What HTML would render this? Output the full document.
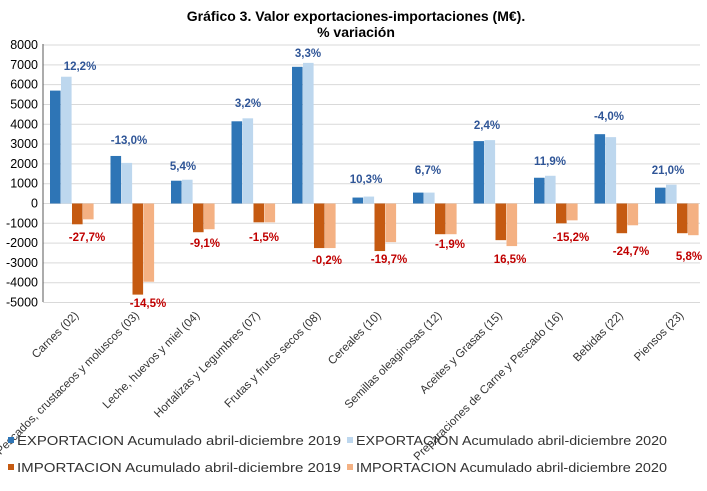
<!DOCTYPE html>
<html><head><meta charset="utf-8"><style>body{margin:0;background:#fff}svg{display:block}</style></head>
<body>
<svg width="707" height="491" xmlns="http://www.w3.org/2000/svg" font-family="Liberation Sans, sans-serif">
<text x="356" y="21" font-size="14" font-weight="bold" text-anchor="middle" fill="#000">Gráfico 3. Valor exportaciones-importaciones (M€).</text>
<text x="356" y="37" font-size="14" font-weight="bold" text-anchor="middle" fill="#000">% variación</text>
<g id="grid" stroke="#d9d9d9" stroke-width="1"></g>
<g id="bars"></g>
<g id="yl" font-size="12.5" fill="#000" text-anchor="end"></g>
<line x1="43" y1="44" x2="43" y2="302" stroke="#595959"/>
<g id="xl" font-size="11.5" fill="#333" text-anchor="end"></g>
<g id="lab" font-size="11.5" font-weight="bold" text-anchor="middle"></g>
<g font-size="13" fill="#333">
<rect x="8" y="437" width="6" height="6" fill="#2e75b6"/><text x="17" y="445" textLength="324" lengthAdjust="spacingAndGlyphs">EXPORTACION Acumulado abril-diciembre 2019</text>
<rect x="347" y="437" width="6" height="6" fill="#bdd7ee"/><text x="356" y="445" textLength="311" lengthAdjust="spacingAndGlyphs">EXPORTACION Acumulado abril-diciembre 2020</text>
<rect x="8" y="464" width="6" height="6" fill="#c55a11"/><text x="17" y="472" textLength="324" lengthAdjust="spacingAndGlyphs">IMPORTACION Acumulado abril-diciembre 2019</text>
<rect x="347" y="464" width="6" height="6" fill="#f4b183"/><text x="356" y="472" textLength="311" lengthAdjust="spacingAndGlyphs">IMPORTACION Acumulado abril-diciembre 2020</text>
</g>
<script>
var ns="http://www.w3.org/2000/svg";
function el(p,t,a,txt){var e=document.createElementNS(ns,t);for(var k in a)e.setAttribute(k,a[k]);if(txt)e.textContent=txt;document.getElementById(p).appendChild(e);}
var z=203.5,s=257.5/13000;
function Y(v){return z-v*s;}
for(var v=-5000;v<=8000;v+=1000){el('grid','line',{x1:43,x2:700,y1:Y(v),y2:Y(v)});el('yl','text',{x:38,y:Y(v)+4},String(v));}
var d=[[5700,6400,-1050,-800],[2400,2050,-4600,-3950],[1150,1200,-1450,-1300],[4150,4300,-950,-950],[6900,7100,-2250,-2250],[300,350,-2400,-1950],[550,550,-1550,-1550],[3150,3200,-1850,-2150],[1300,1400,-1000,-850],[3500,3350,-1500,-1100],[800,950,-1500,-1600]];
var c=['#2e75b6','#bdd7ee','#c55a11','#f4b183'];
var w=60.5;
d.forEach(function(g,i){g.forEach(function(v,j){var x=43+i*w+7+j*11;var y=v>0?Y(v):z;el('bars','rect',{x:x,y:y,width:10.6,height:Math.abs(v)*s,fill:c[j]});});});
var names=["Carnes  (02)","Pescados, crustaceos y moluscos (03)","Leche, huevos y miel (04)","Hortalizas y Legumbres (07)","Frutas y frutos secos (08)","Cereales (10)","Semillas oleaginosas (12)","Aceites y Grasas (15)","Preparaciones de Carne y Pescado (16)","Bebidas (22)","Piensos (23)"];
names.forEach(function(n,i){var x=43+i*w+w/2+6,y=316;el('xl','text',{x:x,y:y,transform:'rotate(-45 '+x+' '+y+')'},n);});
var bl=[["12,2%",80,70],["-13,0%",129,144],["5,4%",183,170],["3,2%",248,107],["3,3%",308,57],["10,3%",366,183],["6,7%",428,174],["2,4%",487,129],["11,9%",550,165],["-4,0%",609,120],["21,0%",668,174]];
var rl=[["-27,7%",87,241],["-14,5%",148,307],["-9,1%",205,247],["-1,5%",264,241],["-0,2%",327,264],["-19,7%",389,263],["-1,9%",450,248],["16,5%",510,263],["-15,2%",571,241],["-24,7%",631,255],["5,8%",689,260]];
bl.forEach(function(l){el('lab','text',{x:l[1],y:l[2],fill:'#2f5597'},l[0]);});
rl.forEach(function(l){el('lab','text',{x:l[1],y:l[2],fill:'#c00000'},l[0]);});
</script>
</svg>
</body></html>
